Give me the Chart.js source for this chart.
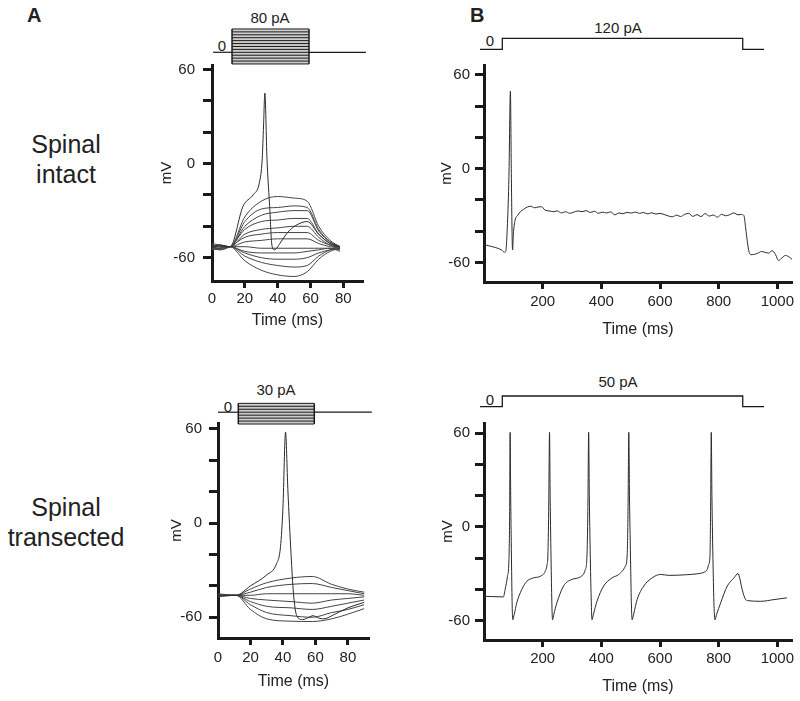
<!DOCTYPE html>
<html>
<head>
<meta charset="utf-8">
<script src="https://cdn.jsdelivr.net/npm/chart.js@4.4.0/dist/chart.umd.min.js"></script>
<style>
  body { margin: 0; background: #fff; width: 800px; height: 701px; position: relative; overflow: hidden;
         font-family: "Liberation Sans", Arial, sans-serif; color: #222; }
  canvas { position: absolute; }
  .lbl { position: absolute; transform: translate(-50%, -50%); white-space: nowrap; font-size: 15px; }
  .row { position: absolute; left: 0; width: 132px; text-align: center; font-size: 25px; line-height: 30px; }
  .pan { position: absolute; font-weight: bold; font-size: 20px; line-height: 20px; }
</style>
</head>
<body>
<div class="pan" style="left:27px;top:5px">A</div>
<div class="pan" style="left:470px;top:5px">B</div>
<div class="row" style="top:129px">Spinal<br>intact</div>
<div class="row" style="top:492px">Spinal<br>transected</div>

<div class="lbl" style="left:270px;top:17px">80 pA</div>
<div class="lbl" style="left:222px;top:45px">0</div>
<div class="lbl" style="left:276px;top:389px">30 pA</div>
<div class="lbl" style="left:228px;top:406px">0</div>
<div class="lbl" style="left:618px;top:27px">120 pA</div>
<div class="lbl" style="left:490px;top:40px">0</div>
<div class="lbl" style="left:618px;top:381px">50 pA</div>
<div class="lbl" style="left:490px;top:399px">0</div>

<canvas id="stimA1"></canvas>
<canvas id="stimA2"></canvas>
<canvas id="stimB1"></canvas>
<canvas id="stimB2"></canvas>
<canvas id="chartA1"></canvas>
<canvas id="chartA2"></canvas>
<canvas id="chartB1"></canvas>
<canvas id="chartB2"></canvas>

<script>
// ---- axis ticks ----
const mvTicks = [-60, -40, -20, 0, 20, 40, 60];
const mvLabels = [-60, 0, 60];
const msTicksA = [0, 20, 40, 60, 80];
const msTicksB = [200, 400, 600, 800, 1000];

// ---- A, spinal intact: current steps -40..80 pA ----
const a1Steps = [-40, -30, -20, -10, 0, 10, 20, 30, 40, 50, 60, 70, 80];
const a1Pulse = [12.2, 59.1];
const a1Time = [0, 5, 11, 20, 30, 40, 50, 58, 65, 72, 78];
const a1Traces = [
  [-52, -53, -53, -34, -24, -21, -22, -24, -40, -49, -53],
  [-54, -53, -53, -37, -29, -28, -27, -28, -42, -50, -53],
  [-51, -52, -53, -40, -33, -31, -30, -30, -43, -50, -53],
  [-55, -54, -53, -42, -37, -36, -35, -35, -45, -51, -54],
  [-53, -52, -53, -45, -42, -41, -40, -40, -47, -52, -53],
  [-54, -55, -53, -47, -45, -44, -44, -44, -49, -52, -54],
  [-52, -53, -53, -50, -49, -48, -48, -48, -51, -53, -54],
  [-53, -54, -53, -53, -54, -54, -54, -54, -54, -54, -55],
  [-55, -54, -53, -56, -57, -57, -57, -56, -55, -54, -56],
  [-54, -55, -53, -57, -60, -61, -61, -60, -57, -55, -54],
  [-53, -53, -53, -59, -63, -65, -66, -65, -59, -55, -53],
  [-55, -54, -53, -62, -68, -71, -72, -69, -61, -56, -54]
];
const a1Spike = [[0, -53], [5, -52], [11, -53], [19, -27], [25, -20], [28.9, -12], [30.6, 3], [31.4, 24],
  [32.2, 45], [33.5, 3], [35, -25], [36.5, -52], [38, -55], [42, -50], [46, -44], [51, -39.5], [58, -37],
  [65, -45], [72, -51], [78, -53]];

// ---- A, spinal transected: current steps -40..30 pA ----
const a2Steps = [-40, -30, -20, -10, 0, 10, 20, 30];
const a2Pulse = [12.5, 59.3];
const a2Time = [0, 11, 20, 30, 45, 58, 70, 80, 90];
const a2Traces = [
  [-46, -46, -42, -38, -35, -34, -39, -42, -44],
  [-45, -46, -44, -41, -39, -38.5, -41, -43, -45],
  [-46, -46, -46, -45, -45, -45, -45, -45, -46],
  [-47, -46, -48, -49, -50, -51, -49, -48, -47],
  [-46, -46, -50, -53, -54, -55, -53, -51, -49],
  [-46, -46, -52, -57, -59, -60, -57, -55, -52],
  [-46, -46, -55, -61, -62.5, -62.7, -61, -58, -54.5]
];
const a2Spike = [[0, -46], [11, -46], [20, -40], [30, -33], [36, -26], [38.5, -15], [40, 10], [41.6, 58],
  [43, 22], [45, -20], [46.5, -45], [48.5, -59], [52, -61.5], [56, -60], [58.5, -59], [62, -60.5], [65, -61],
  [72, -58], [80, -54], [90, -50.5]];

// ---- B, long steps ----
const b1Stim = [[-13.6, 0], [62.4, 0], [62.4, 120], [882, 120], [882, 0], [954.5, 0]];
const b2Stim = [[-13.6, 0], [62.4, 0], [62.4, 50], [882, 50], [882, 0], [954.5, 0]];

const b1Trace = [[0, -48.5], [20, -49.5], [40, -50.5], [60, -52], [70, -53.5], [74, -53], [80, -35], [85, -5],
  [90, 49.6], [93, 0], [96, -45], [97.5, -52], [100, -42], [106, -33], [114, -30], [124, -27.5], [135, -26],
  [148, -24.5], [160, -24], [172, -25], [184, -24.5], [196, -24.3], [208, -26.5], [222, -27], [236, -27.5],
  [250, -27], [264, -28.3], [278, -27.5], [292, -28.5], [306, -27.8], [320, -27], [334, -27.5], [348, -26.8],
  [362, -28], [376, -27.2], [390, -28.5], [404, -27.8], [418, -28.3], [432, -27.6], [446, -29.5], [460, -28.3],
  [474, -28.8], [488, -27.9], [502, -28.4], [516, -27.7], [530, -28.6], [544, -28], [558, -28.9], [572, -28.2],
  [586, -29], [600, -28.6], [614, -29.3], [628, -30.2], [642, -30.8], [656, -29.7], [670, -30.6], [684, -29.2],
  [698, -28.6], [712, -30.5], [726, -29.4], [740, -30.6], [754, -28.7], [768, -30.3], [782, -29.6], [796, -31],
  [810, -29.2], [824, -30.1], [838, -29.4], [852, -28.3], [866, -29.5], [878, -29.3], [886, -30], [892, -38],
  [898, -47], [904, -53.5], [910, -55], [922, -54.8], [934, -54], [946, -53], [958, -53.5], [970, -54],
  [982, -52.5], [994, -55], [1004, -58.8], [1016, -57], [1028, -55.5], [1040, -56.5], [1050, -58]];

const b2Trace = [[0, -44.4], [30, -44.6], [66, -44.8], [72, -40], [80, -31.6], [85, -21], [87.5, 10], [89, 60.6],
  [91, 20], [94, -25], [96, -50], [98, -59.4], [103, -56], [111.7, -48.6], [128.9, -40], [146, -34.8],
  [168.8, -32.6], [191.5, -31.6], [208.7, -28.4], [215, -24], [217.8, -18], [220.5, 10], [223.4, 60.6],
  [225.5, 20], [229, -25], [231.5, -50], [233.6, -59.4], [238, -56], [248.5, -48.6], [271.3, -37.8],
  [299.8, -33.6], [328.3, -32], [345.4, -27.3], [351, -18.7], [354, 10], [356.8, 60.6], [359, 20], [363, -25],
  [366, -50], [368.2, -59.4], [373, -56], [385.2, -47.6], [408, -37.8], [436.6, -32.6], [459.4, -30.4],
  [482.1, -25], [487.9, -18.7], [491, 10], [493.6, 60.6], [496, 20], [500, -25], [502.5, -50], [505, -59.4],
  [510, -56], [522, -46.5], [544.8, -37.8], [573.3, -32.6], [601.8, -30.4], [630, -31], [658.8, -30.9],
  [690, -30.6], [727, -30], [750, -29], [761, -27.3], [766, -24], [770.3, -18.7], [772.5, 10], [774.8, 60.6],
  [777, 20], [781, -25], [784, -50], [787.4, -59.4], [793, -56], [806.8, -48.6], [829.5, -37.8],
  [852.3, -32.6], [866, -29.8], [872, -33], [880, -40], [892, -46.5], [900, -47.2], [943.5, -47.6],
  [989, -46.5], [1032.5, -45.4]];

// ---- helpers ----
Chart.defaults.font.family = '"Liberation Sans", Arial, sans-serif';
Chart.defaults.color = '#222';
const INK = '#1a1a1a';
const PAD = 24;

const pts = arr => arr.map(p => ({ x: p[0], y: p[1] }));
const zipT = (t, v) => t.map((x, i) => ({ x, y: v[i] }));

function setBox(cv, l, t, w, h) {
  cv.width = w; cv.height = h;
  cv.style.left = l + 'px'; cv.style.top = t + 'px';
  cv.style.width = w + 'px'; cv.style.height = h + 'px';
}

function traceLine(data, color) {
  return { data, borderColor: color || '#333', borderWidth: 1, pointRadius: 0,
           cubicInterpolationMode: 'monotone', fill: false };
}

function traceChart(id, p, datasets) {
  const cv = document.getElementById(id);
  setBox(cv, p.l - p.wy - PAD, p.t - PAD,
         Math.round(p.r - p.l + p.wy + 2 * PAD), Math.round(p.b - p.t + p.hx + 2 * PAD));
  return new Chart(cv, {
    type: 'line',
    data: { datasets },
    options: {
      responsive: false, animation: false, devicePixelRatio: 1,
      layout: { padding: PAD },
      plugins: { legend: { display: false }, tooltip: { enabled: false } },
      scales: {
        x: {
          type: 'linear', min: p.x0, max: p.x1,
          afterFit: s => { s.height = p.hx; },
          afterBuildTicks: s => { s.ticks = p.xTicks.map(v => ({ value: v })); },
          border: { display: true, width: 3, color: INK },
          grid: { drawOnChartArea: false, drawTicks: true, tickLength: 7, tickWidth: 3,
                  tickColor: c => (c.tick && c.tick.value === 0) ? 'rgba(0,0,0,0)' : INK },
          ticks: { autoSkip: false, maxRotation: 0, padding: p.xPad, font: { size: 15 }, color: '#222',
                   callback: v => String(v) },
          title: { display: true, text: 'Time (ms)', font: { size: 16 }, color: '#222', padding: 0 }
        },
        y: {
          min: p.y0, max: p.y1,
          afterFit: s => { s.width = p.wy; },
          afterBuildTicks: s => { s.ticks = mvTicks.map(v => ({ value: v })); },
          border: { display: true, width: 3, color: INK },
          grid: { drawOnChartArea: false, drawTicks: true, tickLength: 9, tickWidth: 3, tickColor: INK },
          ticks: { padding: p.yPad, font: { size: 15 }, color: '#222',
                   callback: v => mvLabels.includes(v) ? String(v) : '' },
          title: { display: true, text: 'mV', font: { size: 15 }, color: '#222', padding: 0 }
        }
      }
    }
  });
}

function stimChart(id, s, datasets) {
  const cv = document.getElementById(id);
  setBox(cv, s.l, s.t, s.w, s.h);
  return new Chart(cv, {
    type: 'line',
    data: { datasets },
    options: {
      responsive: false, animation: false, devicePixelRatio: 1,
      layout: { padding: 0 },
      plugins: { legend: { display: false }, tooltip: { enabled: false } },
      elements: { point: { radius: 0 }, line: { tension: 0 } },
      scales: {
        x: { type: 'linear', display: false,
             min: (s.l - s.xo) / s.xs, max: (s.l + s.w - s.xo) / s.xs },
        y: { display: false,
             min: (s.yo - (s.t + s.h)) / s.ys, max: (s.yo - s.t) / s.ys }
      }
    }
  });
}

function stimLine(data, w) {
  return { data: pts(data), borderColor: INK, borderWidth: w || 1.2, pointRadius: 0, fill: false, clip: false };
}

function boxStim(steps, pulse, baseEnd) {
  const lo = steps[0], hi = steps[steps.length - 1];
  const ds = [];
  ds.push(stimLine([[pulse[0], lo], [pulse[0], hi]], 1.5));
  ds.push(stimLine([[pulse[1], lo], [pulse[1], hi]], 1.5));
  steps.forEach(v => ds.push(stimLine([[pulse[0], v], [pulse[1], v]], 1)));
  ds.push(stimLine([[baseEnd[0], 0], [pulse[0], 0]]));
  ds.push(stimLine([[pulse[1], 0], [baseEnd[1], 0]]));
  ds.push({ data: pts([[pulse[0], lo], [pulse[1], lo]]), borderWidth: 0, pointRadius: 0,
            backgroundColor: '#cdcdcd', fill: { value: hi } });
  return ds;
}

// ---- stimulus traces ----
stimChart('stimA1', { l: 200, t: 8, w: 180, h: 70, xo: 212, xs: 151 / 92, yo: 52.3, ys: 0.2917 },
  boxStim(a1Steps, a1Pulse, [0.6, 93.8]));
stimChart('stimA2', { l: 205, t: 385, w: 175, h: 50, xo: 218, xs: 151 / 93, yo: 412.2, ys: 0.2957 },
  boxStim(a2Steps, a2Pulse, [0, 94.7]));
stimChart('stimB1', { l: 470, t: 28, w: 310, h: 32, xo: 484, xs: 308 / 1050, yo: 49.3, ys: 11 / 120 },
  [stimLine(b1Stim, 1.3)]);
stimChart('stimB2', { l: 470, t: 386, w: 310, h: 32, xo: 484, xs: 308 / 1050, yo: 406.7, ys: 10.7 / 50 },
  [stimLine(b2Stim, 1.3)]);

// ---- voltage traces ----
traceChart('chartA1',
  { l: 212, t: 65, r: 363, b: 281, x0: 0, x1: 92, y0: -74.9, y1: 62.9, xTicks: msTicksA,
    wy: 54, hx: 49, xPad: 2, yPad: 8 },
  [traceLine(pts(a1Spike), '#2a2a2a')].concat(a1Traces.map(v => traceLine(zipT(a1Time, v), '#444'))));

traceChart('chartA2',
  { l: 218, t: 423, r: 369, b: 638, x0: 0, x1: 93, y0: -73.2, y1: 63.8, xTicks: msTicksA,
    wy: 50, hx: 53, xPad: 4, yPad: 7 },
  [traceLine(pts(a2Spike), '#2a2a2a')].concat(a2Traces.map(v => traceLine(zipT(a2Time, v), '#444'))));

traceChart('chartB1',
  { l: 484, t: 65, r: 792, b: 282, x0: 0, x1: 1050, y0: -72.5, y1: 66.4, xTicks: msTicksB,
    wy: 46, hx: 57, xPad: 4, yPad: 5 },
  [traceLine(pts(b1Trace), '#2a2a2a')]);

traceChart('chartB2',
  { l: 484, t: 423, r: 792, b: 640, x0: 0, x1: 1050, y0: -72.4, y1: 66.6, xTicks: msTicksB,
    wy: 45, hx: 56, xPad: 3, yPad: 5 },
  [traceLine(pts(b2Trace), '#2a2a2a')]);
</script>
</body>
</html>
